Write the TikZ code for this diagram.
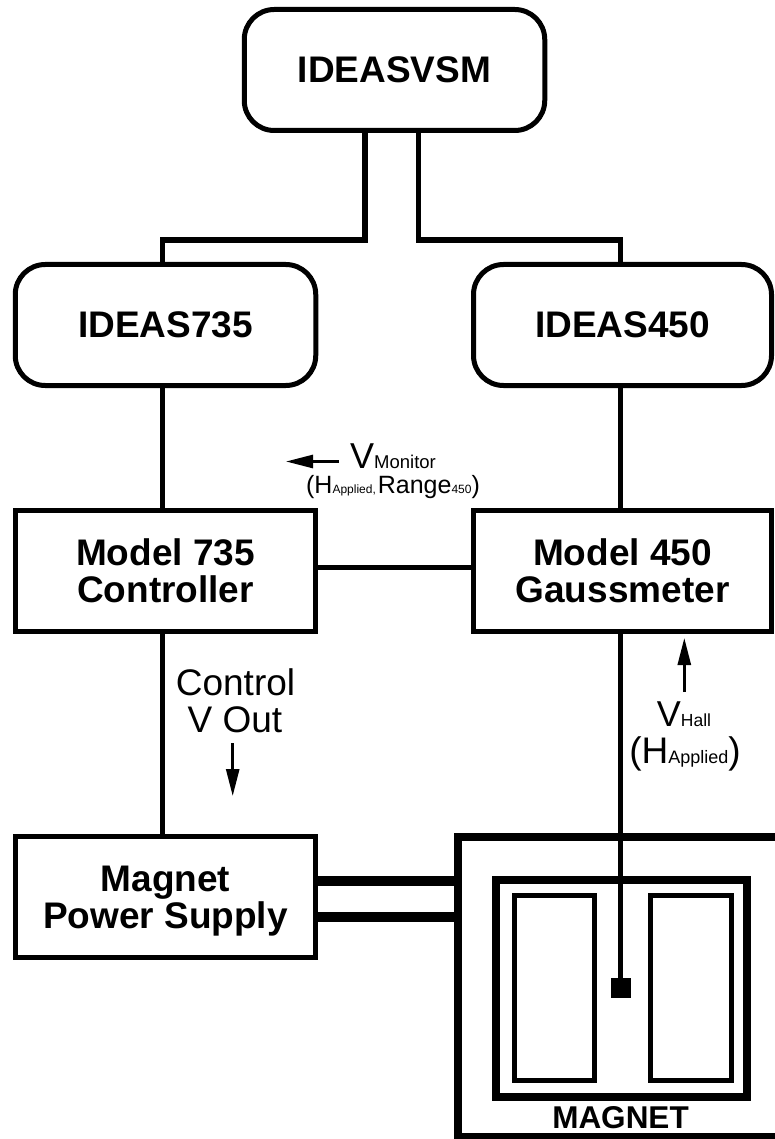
\documentclass[tikz,border=0pt]{standalone}
\usepackage{fontspec}
\setmainfont{Liberation Sans}
\usetikzlibrary{arrows.meta,calc}
\newcommand{\fs}[1]{\fontsize{#1}{#1}\selectfont}
\tikzset{
  x=1pt,y=-1pt,
  boxbase/.style={draw=black,line width=5pt,inner sep=0pt,minimum width=300.5pt,minimum height=121pt,align=center,font=\fs{37}\bfseries},
  roundbox/.style={boxbase,rounded corners=30pt},
  squarebox/.style={boxbase},
  wire/.style={line width=5.5pt,line join=miter},
  heavy/.style={line width=10pt},
  sig/.style={line width=2.7pt,-{Triangle[length=27pt,width=13pt]}},
  lab/.style={inner sep=0pt,anchor=base},
}
\begin{document}
\begin{tikzpicture}
\useasboundingbox (0,0) rectangle (774,1139);
% nodes
\node[roundbox] (vsm) at (394.5,70) {IDEASVSM};
\node[roundbox] (i735) at (165.5,325) {IDEAS735};
\node[roundbox,minimum width=298pt] (i450) at (622.5,325) {IDEAS450};
\node[squarebox] (m735) at (165.5,571) {Model 735\\Controller};
\node[squarebox,minimum width=298pt] (m450) at (622.5,571) {Model 450\\Gaussmeter};
\node[squarebox,text depth=0pt] (mps) at (165.5,897) {Magnet\\Power Supply};
% magnet
\coordinate (otr) at (774,837);
\coordinate (obr) at (774,1137);
\coordinate (otl) at (458,837);
\coordinate (obl) at (458,1137);
\draw[line width=8pt,line cap=rect] (otr) -- (otl) -- (obl) -- (obr);
\node[draw=black,line width=8pt,inner sep=0pt,minimum width=251pt,minimum height=217pt] (yoke) at (621.5,988.5) {};
\node[draw=black,line width=5pt,inner sep=0pt,minimum width=80pt,minimum height=185pt] (coilL) at (554.5,988) {};
\node[draw=black,line width=5pt,inner sep=0pt,minimum width=81pt,minimum height=185pt] (coilR) at (691,988) {};
\node[fill=black,inner sep=0pt,minimum width=20pt,minimum height=20pt] (probe) at (621,988) {};
\node[lab,font=\fs{31.5}\bfseries] (magnet) at (620.5,1128) {MAGNET};
% connectors
\draw[wire] ([xshift=-29.5pt]vsm.south) -- ++(0,107) -| ([xshift=-3pt]i735.north);
\draw[wire] ([xshift=24pt]vsm.south) -- ++(0,107) -| ([xshift=-2.2pt]i450.north);
\draw[wire] ([xshift=-3pt]i735.south) -- ([xshift=-3pt]m735.north);
\draw[wire] ([xshift=-2.2pt]i450.south) -- ([xshift=-2.2pt]m450.north);
\draw[wire] ([yshift=3.5pt]m735.east) -- ([yshift=3.5pt]m450.west);
\draw[wire] ([xshift=-3pt]m735.south) -- ([xshift=-3pt]mps.north);
\draw[wire] ([xshift=-2.2pt]m450.south) -- ++(0,356);
\coordinate (pu) at (458,880.5);
\coordinate (pl) at (458,917);
\draw[heavy] (mps.east |- pu) -- (pu);
\draw[heavy] (mps.east |- pl) -- (pl);
% signal arrows
\coordinate (a1s) at (339,461.5); \coordinate (a1e) at (286,461.5);
\coordinate (a2s) at (232.7,743); \coordinate (a2e) at (232.7,796);
\coordinate (a3s) at (684.3,692); \coordinate (a3e) at (684.3,638);
\draw[sig] (a1s) -- (a1e);
\draw[sig] (a2s) -- (a2e);
\draw[sig] (a3s) -- (a3e);
% labels
\node[lab] (vmon) at (393,468) {\fs{36}V\fs{18.5}Monitor};
\node[lab] (hrange) at (393,493) {\fs{25}(H\fs{12}Applied,\,\fs{25}Range\fs{12}450\fs{25})};
\node[lab,font=\fs{37}] (ctrl) at (235.5,695) {Control};
\node[lab,font=\fs{37}] (vout) at (235,732) {V Out};
\node[lab] (vhall) at (684,726) {\fs{36}V\fs{17.5}Hall};
\node[lab] (happ) at (685,763) {\fs{37}(H\fs{18}Applied\fs{37})};
\end{tikzpicture}
\end{document}
